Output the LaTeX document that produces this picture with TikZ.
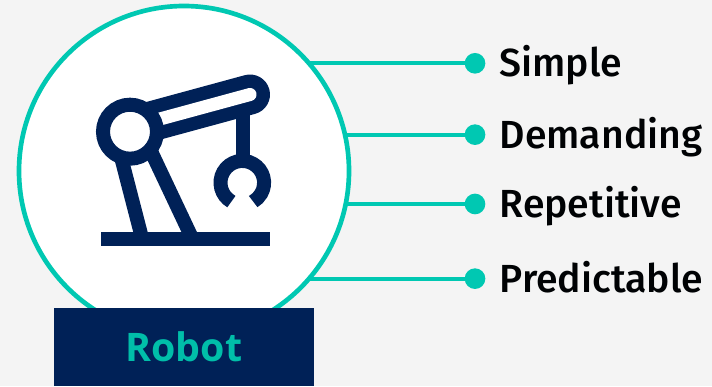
\documentclass[tikz,border=0pt]{standalone}
\usepackage{fontspec}
\setmainfont{Open Sans}
\newfontfamily\itemfont{Fira Sans}[UprightFont={* Medium}]
\usepackage{tikz}
\usetikzlibrary{positioning}
\definecolor{navy}{HTML}{002157}
\definecolor{teal}{HTML}{00C8B2}
\definecolor{paper}{HTML}{F4F4F4}
\tikzset{
    hubcircle/.style={
    circle,draw=teal,fill=white,line width=3.5pt,minimum size=247.5pt,inner sep=0pt,outer sep=0pt
    },
    tagbox/.style={
    rectangle,fill=navy,text=teal!95!black,minimum width=195pt,minimum height=58.5pt,inner sep=0pt,font=\bfseries\fontsize{29.5}{29.5}\selectfont
    },
    dot/.style={
    circle,fill=teal,minimum size=15.5pt,inner sep=0pt,outer sep=0pt,on grid
    },
    itemlabel/.style={
    inner sep=0pt,text=black!95!navy,text height=25.2pt,text depth=5pt,font=\itemfont\fontsize{29.4}{29.4}\selectfont
    },
    link/.style={
    draw=teal,line width=3.2pt
    },
    icon/.style={
    draw=navy,line width=10.5pt
    },
}
\begin{document}
\begin{tikzpicture}[x=0.75pt,y=-0.75pt]
   \useasboundingbox[fill=paper] (0,0) rectangle (712,386);
   \node[hubcircle] (hub) at (184,171) {};
   \node[tagbox] (tag) at (184,347) {Robot};

   \node[dot] (dot1) at (475,63.3) {};
   \node[dot,below=53.5pt of dot1] (dot2) {};
   \node[dot,below=52pt of dot2] (dot3) {};
   \node[dot,below=56pt of dot3] (dot4) {};
   \node[itemlabel,right=10.5pt of dot1] (simple) {Simple};
   \node[itemlabel,right=10.5pt of dot2] (demanding) {Demanding};
   \node[itemlabel,right=10.5pt of dot3] (repetitive) {Repetitive};
   \node[itemlabel,right=10.5pt of dot4] (predictable) {Predictable};

   \path[link] (dot1 -| hub.41) -- (dot1);
   \path[link] (dot2 -| hub.12) -- (dot2);
   \path[link] (dot3 -| hub.-12) -- (dot3);
   \path[link] (dot4 -| hub.-41) -- (dot4);

   % robot arm
   \draw[icon] (120,153) -- (142,238);
   \draw[icon] (149,147) -- (192,238);
   \fill[navy] (100.7,232) rectangle (270,246);
   \draw[icon] (243,105) -- (243,160);
   \draw[icon] (242.3,182.7) ++(120:21.8) arc[start angle=120,end angle=420,radius=21.8];
   \draw[navy,line width=30pt,line cap=round] (150,121.7) -- (250,94.5);
   \draw[white,line width=9.8pt,line cap=round] (150,121.7) -- (250,94.5);
   \draw[icon,fill=white] (130,131.7) circle[radius=27];
\end{tikzpicture}
\end{document}
